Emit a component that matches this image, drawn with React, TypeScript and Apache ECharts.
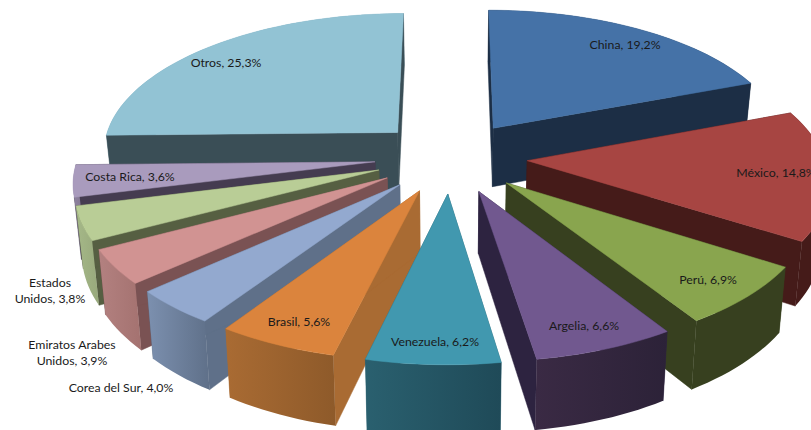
import React, { useEffect, useRef } from "react";
import * as echarts from "echarts";

const categories = ["China", "México", "Perú", "Argelia", "Venezuela", "Brasil", "Corea del Sur", "Emiratos Arabes Unidos", "Estados Unidos", "Costa Rica", "Otros"];
const shares = [19.2, 14.8, 6.9, 6.6, 6.2, 5.6, 4.0, 3.9, 3.8, 3.6, 25.3];
const topColors = ["#4572A7", "#A74542", "#89A54E", "#71588F", "#4198AF", "#DB843D", "#93A9CF", "#D19392", "#B9CD96", "#A99BBD", "#92C3D4"];
const sideColors = ["#1C2E45", "#451B19", "#37401F", "#2D2340", "#295F6E", "#A96B33", "#5F7089", "#7A5253", "#565F42", "#453C50", "#3A4E56"];
const outerFrom = ["#1C2E45", "#451B19", "#37401F", "#3A2A44", "#2A606F", "#A96B33", "#7C90AF", "#B38180", "#A5B888", "#8F83A1", "#6E9FB0"];
const outerTo = ["#1C2E45", "#451B19", "#37401F", "#2C2238", "#1F4A58", "#8E5A2A", "#5F7089", "#A47270", "#98A97C", "#837790", "#6E9FB0"];
const labelTexts = ["China, 19,2%", "México, 14,8%", "Perú, 6,9%", "Argelia, 6,6%", "Venezuela, 6,2%", "Brasil, 5,6%", "Corea del Sur, 4,0%", "Emiratos Arabes\nUnidos, 3,9%", "Estados\nUnidos, 3,8%", "Costa Rica, 3,6%", "Otros, 25,3%"];
const labelX = [625, 776, 708, 584, 435, 299, 121, 72, 50, 130, 226];
const labelY = [44, 172, 279, 325, 341, 321, 387, 352, 290, 176, 62];

// Perspective set-up of the 3D pie
const CX = 451, HORIZON = -963, BASE = 1120, P = 0.1245, RX = 297, EXPLODE = 0.257, DEPTH = 60, PINCH = 0.019;

const total = shares.reduce((a, b) => a + b, 0);
const starts: number[] = [];
shares.reduce((acc, v, i) => { starts[i] = acc; return acc + v; }, 0);
const angle = (v: number) => (v / total) * Math.PI * 2;

function project(X: number, Y: number, bottom: boolean): number[] {
  const s = 1 / (1 - P * Y);
  const x = RX * X * s;
  const y = HORIZON + BASE * s;
  return bottom ? [CX + x * (1 - PINCH), y + DEPTH * s] : [CX + x, y];
}

function renderSlice(_params: any, api: any) {
  const i = api.value(0);
  const a0 = angle(starts[i]);
  const a1 = angle(starts[i] + shares[i]);
  const mid = (a0 + a1) / 2;
  const ox = EXPLODE * Math.sin(mid);
  const oy = -EXPLODE * Math.cos(mid);
  const steps = Math.max(6, Math.ceil(shares[i] * 2));
  const rim: number[][] = [];
  for (let k = 0; k <= steps; k++) {
    const a = a0 + ((a1 - a0) * k) / steps;
    rim.push([ox + Math.sin(a), oy - Math.cos(a)]);
  }
  const top = rim.map((p) => project(p[0], p[1], false));
  const bot = rim.map((p) => project(p[0], p[1], true));
  const apexT = project(ox, oy, false);
  const apexB = project(ox, oy, true);
  const poly = (points: number[][], fill: any) => ({
    type: "polygon",
    shape: { points },
    style: { fill, stroke: typeof fill === "string" ? fill : undefined, lineWidth: 0.5 },
    silent: true,
  });
  const grad = new echarts.graphic.LinearGradient(0, 0, 1, 0, [
    { offset: 0, color: outerFrom[i] },
    { offset: 1, color: outerTo[i] },
  ]);
  const outer = poly([...top, ...bot.slice().reverse()], grad);
  const radial = [
    poly([apexT, top[0], bot[0], apexB], sideColors[i]),
    poly([apexT, top[steps], bot[steps], apexB], sideColors[i]),
  ];
  // a rim on the far side lies behind the slice's radial walls
  const farSide = Math.cos(mid) > 0;
  const walls = farSide ? [outer, ...radial] : [...radial, outer];
  return {
    type: "group",
    children: [...walls, poly([apexT, ...top], topColors[i])],
  };
}

// painter's order: farthest slice first
const drawOrder = categories
  .map((_, i) => i)
  .sort((a, b) => {
    const m = (k: number) => angle(starts[k] + shares[k] / 2);
    return -Math.cos(m(a)) - -Math.cos(m(b));
  });

export default function App() {
  const ref = useRef<HTMLDivElement>(null);
  useEffect(() => {
    const chart = echarts.init(ref.current!, undefined, { renderer: "svg" });
    chart.setOption({
      animation: false,
      backgroundColor: "#ffffff",
      series: [
        {
          type: "custom",
          coordinateSystem: "none",
          silent: true,
          renderItem: renderSlice,
          data: drawOrder.map((i) => ({ name: categories[i], value: [i, shares[i]] })),
        },
      ],
      graphic: labelTexts.map((t, i) => ({
        type: "text",
        z: 100,
        x: labelX[i],
        y: labelY[i],
        silent: true,
        style: {
          text: t,
          fill: "#1a1a1a",
          font: '12.3px Lato, "Open Sans", sans-serif',
          align: "center",
          verticalAlign: "middle",
          lineHeight: 16,
        },
      })),
    });
    return () => chart.dispose();
  }, []);
  return <div ref={ref} style={{ position: "absolute", left: 0, top: 0, width: 811, height: 430 }} />;
}
